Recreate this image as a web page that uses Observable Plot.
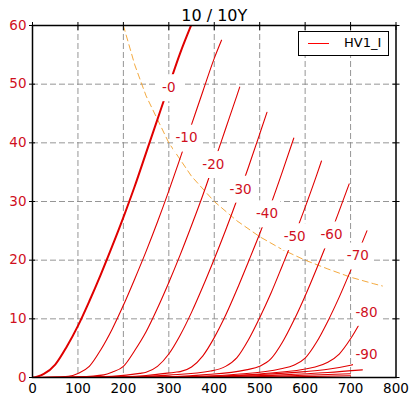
<!DOCTYPE html>
<html>
<head>
<meta charset="utf-8">
<script src="https://cdn.jsdelivr.net/npm/d3@7"></script>
<script src="https://cdn.jsdelivr.net/npm/@observablehq/plot@0.6"></script>
<style>
  html, body { margin: 0; padding: 0; background: #fff; }
  #wrap { position: relative; width: 412px; height: 398px; font-family: "DejaVu Sans", sans-serif; }
  #legend { position: absolute; left: 298px; top: 31px; width: 89px; height: 23px; border: 1px solid #000; background: #fff; box-sizing: content-box; }
  #legend .sw { position: absolute; left: 9px; top: 11px; width: 21px; height: 0; border-top: 1px solid red; }
  #legend .lb { position: absolute; left: 45px; top: 3px; font-size: 13px; line-height: 16px; color: #000; }
</style>
</head>
<body>
<div id="wrap">
  <div id="chart"></div>
  <div id="legend"><div class="sw"></div><div class="lb">HV1_I</div></div>
</div>
<script>
// ---- data (plate voltage V, plate current mA) ----
const titleText = "10 / 10Y";
const seriesName = "HV1_I";
const xTicks = [0, 100, 200, 300, 400, 500, 600, 700, 800];
const yTicks = [0, 10, 20, 30, 40, 50, 60];

const curveG0 = [[0,0],[10,0.15],[25,0.6],[50,2.2],[75,5.2],[100,8.8],[125,13.0],[150,17.5],[175,22.3],[200,27.3],[225,32.6],[250,38.3],[275,44.0],[300,49.7],[325,55.3],[350,60.2]];
const curveG10 = [[0,0],[40,0.02],[79,0.2],[100,0.7],[125,1.9],[150,4.7],[175,8.2],[200,12.3],[225,16.8],[250,21.5],[275,26.5],[300,31.8],[325,37.4],[350,43.1],[375,48.8],[400,54.4],[416,57.5]];
const curveG20 = [[0,0],[50,0.02],[100,0.1],[157,0.45],[175,0.9],[200,1.9],[225,4.6],[250,7.8],[275,11.8],[300,16.2],[325,20.9],[350,25.9],[375,31.1],[400,36.7],[425,42.4],[450,48.1],[456,49.5]];
const curveG30 = [[0,0],[100,0.05],[175,0.2],[236,0.7],[250,0.9],[275,1.9],[300,4.0],[325,7.2],[350,11.1],[375,15.5],[400,20.2],[425,25.1],[450,30.3],[475,35.8],[500,41.5],[516,45.2]];
const curveG40 = [[0,0],[150,0.05],[250,0.35],[314,0.9],[325,1.0],[350,1.8],[375,3.7],[400,6.8],[425,10.6],[450,15.0],[475,19.7],[500,24.5],[525,29.6],[550,35.1],[575,40.8]];
const curveG50 = [[0,0],[200,0.05],[300,0.4],[392,1.1],[425,1.9],[450,3.4],[475,6.4],[500,10.2],[525,14.4],[550,19.1],[575,23.9],[600,29.0],[625,34.4],[636,36.9]];
const curveG60 = [[0,0],[250,0.05],[375,0.45],[470,1.3],[500,1.9],[525,3.2],[550,6.0],[575,9.7],[600,13.9],[625,18.5],[650,23.3],[675,28.4],[697,33.0]];
const curveG70 = [[0,0],[300,0.05],[450,0.55],[547,1.5],[575,2.1],[600,3.3],[625,6.0],[650,9.6],[675,13.7],[700,18.2],[725,22.9],[736,25.0]];
const curveG80 = [[0,0],[350,0.05],[500,0.6],[622,1.8],[650,2.6],[675,4.0],[700,6.6],[725,9.9],[740,12.0]];
const curveG90 = [[0,0],[300,0.08],[425,0.3],[500,0.5],[600,1.0],[650,1.4],[700,2.1],[740,2.9]];
const curveG100 = [[0,0],[350,0.05],[450,0.2],[550,0.45],[650,0.85],[726,1.3]];
const curveG110 = [[0,0],[400,0.05],[550,0.25],[700,0.65]];
const curveG120 = [[0,0],[450,0.03],[600,0.15],[700,0.3]];

const gridVolts = [0, -10, -20, -30, -40, -50, -60, -70, -80, -90, -100, -110, -120];
const curves = [curveG0, curveG10, curveG20, curveG30, curveG40, curveG50, curveG60, curveG70, curveG80, curveG90, curveG100, curveG110, curveG120];

// curve labels (placed on each curve)
const labelText = ["-0", "-10", "-20", "-30", "-40", "-50", "-60", "-70", "-80", "-90"];
const labelX = [300, 339, 398, 458, 516, 577, 658, 716, 735, 735];
const labelY = [49.4, 40.8, 36.3, 32.1, 27.9, 24.0, 24.3, 20.7, 11.1, 3.9];

// dissipation limit curve (dashed orange)
const dissX = [200, 225, 250, 300, 350, 400, 450, 500, 550, 600, 650, 700, 750, 770];
const dissY = [60, 53.3, 48, 40, 34.3, 30, 26.7, 24, 21.8, 20, 18.5, 17.1, 16, 15.6];

// ---- build tables ----
const lineRows = [];
curves.forEach((c, i) => c.forEach(([x, y]) => lineRows.push({vg: gridVolts[i], x, y})));
const labels = labelText.map((t, i) => ({t, x: labelX[i], y: labelY[i]}));
const diss = dissX.map((x, i) => ({x, y: dissY[i]}));

const RED = "#e00000";
const TXT_RED = "#d0101e";

const chart = Plot.plot({
  width: 412,
  height: 398,
  marginLeft: 32,
  marginRight: 16.5,
  marginTop: 25,
  marginBottom: 21,
  style: {fontFamily: "DejaVu Sans, sans-serif", fontSize: "13px", background: "#fff", overflow: "visible"},
  x: {domain: [0, 800], ticks: xTicks},
  y: {domain: [0, 60], ticks: yTicks},
  marks: [
    Plot.gridX(xTicks.slice(1, -1), {stroke: "#8a8a8a", strokeOpacity: 1, strokeWidth: 0.9, strokeDasharray: "6,3"}),
    Plot.gridY(yTicks.slice(1, -1), {stroke: "#8a8a8a", strokeOpacity: 1, strokeWidth: 0.9, strokeDasharray: "6,3"}),
    Plot.line(diss, {x: "x", y: "y", stroke: "#f2a02a", strokeOpacity: 0.9, strokeWidth: 1, strokeDasharray: "6,4", clip: true}),
    Plot.line(lineRows.filter(d => d.vg !== 0), {x: "x", y: "y", z: "vg", stroke: RED, strokeWidth: 1.1, curve: "monotone-x", clip: true}),
    Plot.line(lineRows.filter(d => d.vg === 0), {x: "x", y: "y", stroke: RED, strokeWidth: 2, curve: "monotone-x", clip: true}),
    Plot.dot(labels, {x: "x", y: "y", symbol: "square", r: 15.2, fill: "white", stroke: null}),
    Plot.text(labels, {x: "x", y: "y", text: "t", fill: TXT_RED, fontSize: 13.5}),
    Plot.frame({stroke: "#000", strokeWidth: 1.5}),
    Plot.axisX(xTicks, {anchor: "bottom", tickSize: 0, tickPadding: 6, label: null, fill: "#000", fontSize: 13.5}),
    Plot.axisX(xTicks, {anchor: "top", tickSize: 8, dy: 4, tickFormat: () => "", label: null}),
    Plot.axisY(yTicks, {anchor: "left", tickSize: 6, dx: 3, tickPadding: 3, label: null, fill: TXT_RED, fontSize: 13.5}),
    Plot.axisY(yTicks, {anchor: "right", tickSize: 7, dx: -4, tickFormat: () => "", label: null}),
    Plot.text([titleText], {frameAnchor: "top", lineAnchor: "bottom", dy: -5, fontSize: 16, fill: "#000"})
  ]
});
document.getElementById("chart").appendChild(chart);
</script>
</body>
</html>
